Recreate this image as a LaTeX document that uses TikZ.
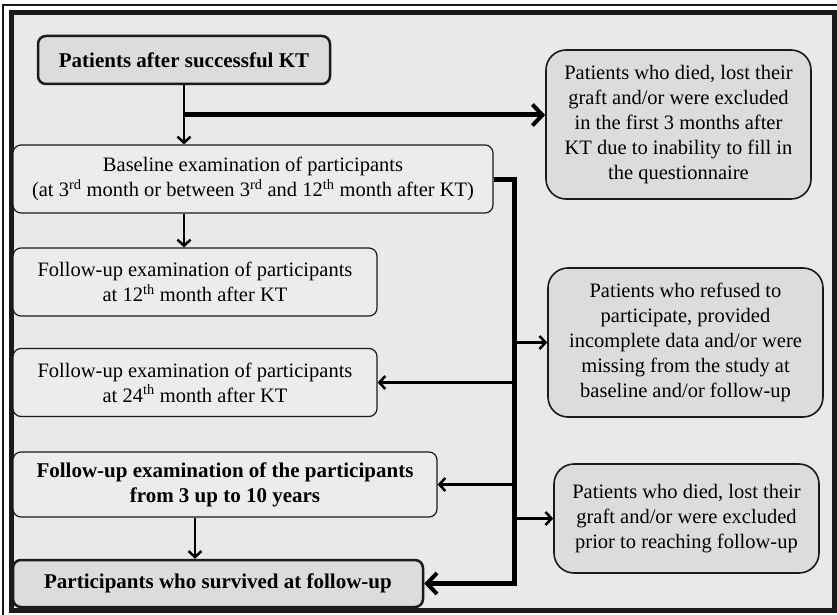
\documentclass[tikz,border=0pt]{standalone}
\usepackage{fontspec}
\setmainfont{Liberation Serif}
\usetikzlibrary{arrows.meta,calc}
\definecolor{bgc}{HTML}{E9E9E9}
\definecolor{darkbox}{HTML}{DCDCDC}
\definecolor{lightbox}{HTML}{ECECEC}
\definecolor{ink}{HTML}{1A1A1A}
\begin{document}
\begin{tikzpicture}[x=1pt,y=-1pt,
  box/.style={draw=ink, rounded corners=8pt, align=center, inner sep=0pt,
    font=\fontsize{20.5}{25}\selectfont, fill=lightbox, line width=1.2pt},
  keybox/.style={box, fill=darkbox, line width=2.5pt, font=\fontsize{21}{25}\selectfont\bfseries},
  boldbox/.style={box, font=\fontsize{21}{25}\selectfont\bfseries},
  sidebox/.style={box, fill=darkbox, rounded corners=20pt, line width=1.6pt},
  arr/.style={draw=black, line width=2.5pt, -{Straight Barb[length=6pt,width=13pt,line width=2.5pt]}},
  bigarr/.style={draw=black, line width=5pt, -{Straight Barb[length=10pt,width=21pt,line width=4pt]}}]
\useasboundingbox (0,0) rectangle (837,615);
% frames
\draw[line width=1.2pt, draw=ink] (3,615) -- (3,5) -- (837,5);
\draw[line width=5pt, draw=ink, fill=bgc] (11,12.5) rectangle (834.5,610.5);
% left column
\node[keybox, minimum width=292pt, minimum height=48pt] (b1) at (184,60) {Patients after successful KT};
\node[box, minimum width=480pt, minimum height=68pt] (b2) at (253,179)
  {Baseline examination of participants\\(at 3\textsuperscript{rd} month or between 3\textsuperscript{rd} and 12\textsuperscript{th} month after KT)};
\node[box, minimum width=364pt, minimum height=68pt] (b3) at (195,282)
  {Follow-up examination of participants\\at 12\textsuperscript{th} month after KT};
\node[box, minimum width=364pt, minimum height=68pt] (b4) at (195,382.5)
  {Follow-up examination of participants\\at 24\textsuperscript{th} month after KT};
\node[boldbox, minimum width=424pt, minimum height=65pt] (b5) at (225,484.5)
  {Follow-up examination of the participants\\from 3 up to 10 years};
\node[keybox, minimum width=410pt, minimum height=47pt] (b6) at (218,583.5)
  {Participants who survived at follow-up};
% right column
\node[sidebox, minimum width=265pt, minimum height=149pt] (b7) at (678.5,124.5)
  {Patients who died, lost their\\graft and/or were excluded\\in the first 3 months after\\KT due to inability to fill in\\the questionnaire};
\node[sidebox, minimum width=275pt, minimum height=149pt] (b8) at (685.5,342.5)
  {Patients who refused to\\participate, provided\\incomplete data and/or were\\missing from the study at\\baseline and/or follow-up};
\node[sidebox, minimum width=265pt, minimum height=109pt] (b9) at (686.5,518.5)
  {Patients who died, lost their\\graft and/or were excluded\\prior to reaching follow-up};
% connectors
\coordinate (j1) at (184,115);
\coordinate (vx) at (514,0);
\coordinate (c56) at (195,0);
\draw[arr] (b1.south) -- (b1.south |- b2.north);
\draw[bigarr] (j1) -- (j1 -| b7.west);
\draw[arr] (b2.south -| b1.south) -- (b3.north -| b1.south);
\draw[bigarr] (b2.east) -- (vx |- b2.east) -- (vx |- b6.east) -- (b6.east);
\draw[arr] (vx |- b8.west) -- (b8.west);
\draw[arr] (vx |- b4.east) -- (b4.east);
\draw[arr] (vx |- b5.east) -- (b5.east);
\draw[arr] (vx |- b9.west) -- (b9.west);
\draw[arr] (b5.south -| c56) -- (b6.north -| c56);
\end{tikzpicture}
\end{document}
